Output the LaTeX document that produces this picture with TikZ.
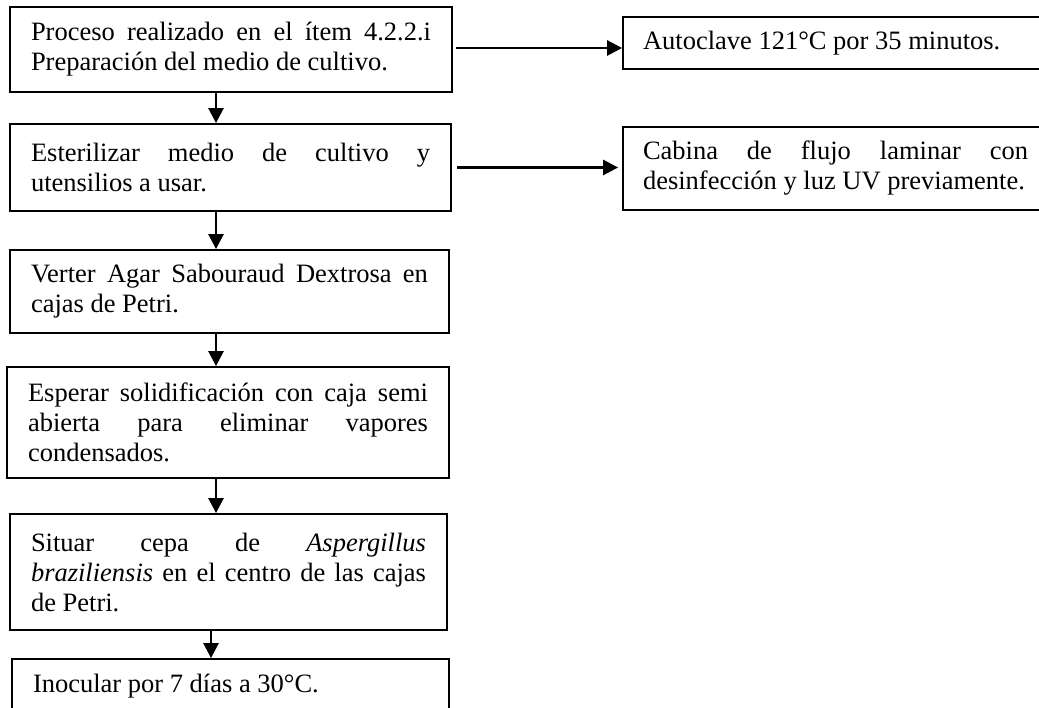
\documentclass[tikz,border=0pt]{standalone}
\usepackage{fontspec}
\setmainfont{Liberation Serif}
\usetikzlibrary{arrows.meta}
\setlength\parindent{0pt}
\hyphenpenalty=10000
\exhyphenpenalty=10000
\newcommand{\jl}[1]{\makebox[\hsize][s]{#1}\\}
\begin{document}
\begin{tikzpicture}[x=1pt,y=-1pt,
  box/.style={draw, line width=1.8pt, inner xsep=21pt, inner ysep=0pt, align=justify,
    font=\fontsize{26.5}{30}\selectfont},
  rbox/.style={box, inner xsep=20pt},
  arr/.style={line width=2.6pt, -{Triangle[length=15pt,width=15pt]}}]
\useasboundingbox (0,0) rectangle (1039,708);
\clip (0,0) rectangle (1039,708);

\node[box, text width=400pt, minimum height=85pt] (b1) at (231,49.5)
  {\jl{Proceso realizado en el ítem 4.2.2.i}Preparación del medio de cultivo.};
\node[box, text width=399pt, minimum height=87pt] (b2) at (230.5,167.5)
  {\jl{Esterilizar medio de cultivo y}utensilios a usar.};
\node[box, text width=397pt, minimum height=83pt] (b3) at (229.5,291.5)
  {\jl{Verter Agar Sabouraud Dextrosa en}cajas de Petri.};
\node[box, text width=400pt, minimum height=111pt] (b4) at (228,422.5)
  {\jl{Esperar solidificación con caja semi}\jl{abierta para eliminar vapores}condensados.};
\node[box, text width=395pt, minimum height=116pt] (b5) at (228.5,572)
  {\jl{Situar cepa de \textit{Aspergillus}}\jl{\textit{braziliensis} en el centro de las cajas}de Petri.};
\node[box, text width=395pt, minimum height=54pt] (b6) at (230.5,686)
  {Inocular por 7 días a 30°C.};

\node[rbox, text width=385pt, minimum height=52pt] (r1) at (835.5,43)
  {Autoclave 121°C por 35 minutos.};
\node[rbox, text width=385pt, minimum height=83pt] (r2) at (835.5,168.5)
  {\jl{Cabina de flujo laminar con}\mbox{desinfección y luz UV previamente.}};

\coordinate (ax) at (216,0);
\coordinate (ay) at (211,0);
\draw[arr] (b1.south -| ax) -- (b2.north -| ax);
\draw[arr] (b2.south -| ax) -- (b3.north -| ax);
\draw[arr] (b3.south -| ax) -- (b4.north -| ax);
\draw[arr] (b4.south -| ax) -- (b5.north -| ax);
\draw[arr] (b5.south -| ay) -- (b6.north -| ay);

\draw[arr] ([xshift=3pt,yshift=1.5pt]b1.east) -- ([yshift=1.5pt]b1.east -| r1.west);
\draw[arr, shorten >=4pt] ([xshift=5pt]b2.east) -- (b2.east -| r2.west);
\end{tikzpicture}
\end{document}
